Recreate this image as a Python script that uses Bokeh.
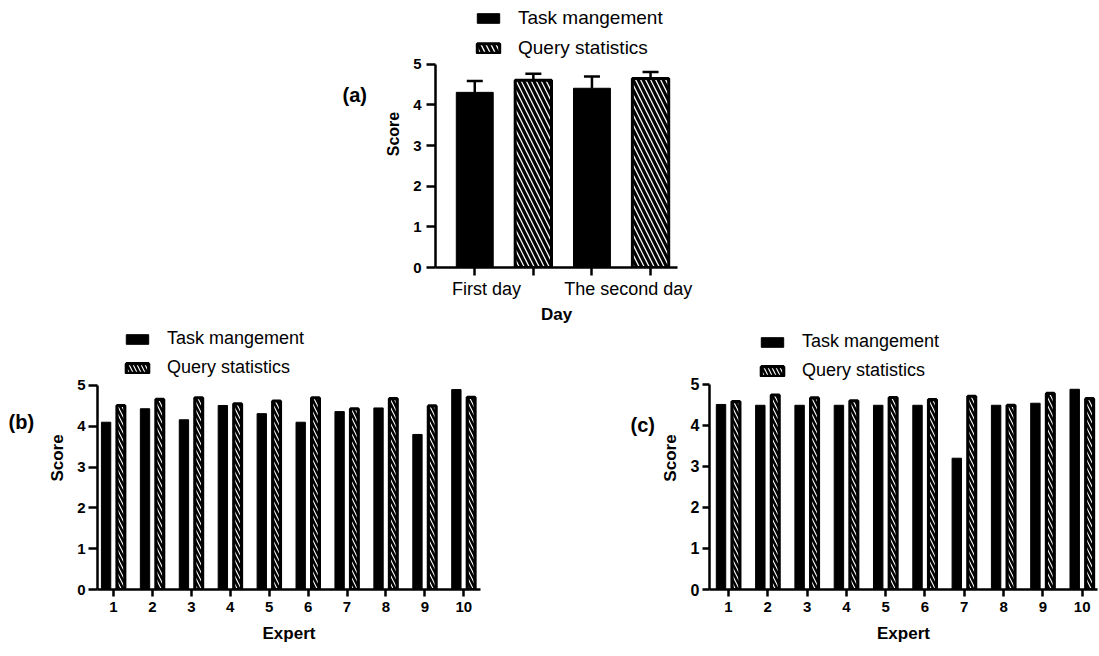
import numpy as np
from bokeh.plotting import figure
from bokeh.models import (ColumnDataSource, Range1d, FixedTicker, Legend, LegendItem,
                          Whisker, TeeHead, Label, Spacer)
from bokeh.layouts import row, column
from bokeh.embed import file_html
from bokeh.resources import INLINE

FONT = "Liberation Sans"

# ---------------- data ----------------
series_names = ["Task mangement", "Query statistics"]
score_ticks = [0, 1, 2, 3, 4, 5]
panel_tags = ["(a)", "(b)", "(c)"]

# panel (a): per day means and SD
days = ["First day", "The second day"]
day_label_pos = [0.2, 2.62]
task_day_mean = [4.31, 4.41]
task_day_sd = [0.28, 0.29]
query_day_mean = [4.61, 4.65]
query_day_sd = [0.16, 0.16]

# panel (b) and (c): per expert scores
experts = [1, 2, 3, 4, 5, 6, 7, 8, 9, 10]
task_b = [4.10, 4.43, 4.16, 4.51, 4.31, 4.10, 4.36, 4.45, 3.80, 4.90]
query_b = [4.51, 4.66, 4.70, 4.55, 4.62, 4.70, 4.43, 4.68, 4.50, 4.71]
task_c = [4.51, 4.49, 4.49, 4.49, 4.49, 4.49, 3.20, 4.49, 4.54, 4.88]
query_c = [4.58, 4.74, 4.67, 4.60, 4.68, 4.63, 4.71, 4.49, 4.78, 4.65]


def base_fig(width, height, xr, ytop, mb_left, mb_right, mb_bottom):
    p = figure(width=width, height=height, x_range=xr, y_range=Range1d(0, ytop),
               output_backend="svg", toolbar_location=None,
               min_border_left=mb_left, min_border_right=mb_right,
               min_border_top=0, min_border_bottom=mb_bottom)
    p.grid.visible = False
    p.outline_line_color = None
    p.background_fill_color = "white"
    p.border_fill_color = "white"
    for ax in (p.xaxis[0], p.yaxis[0]):
        ax.axis_line_color = "black"
        ax.axis_line_width = 2.5
        ax.major_tick_line_color = "black"
        ax.major_tick_line_width = 2.5
        ax.major_tick_in = 0
        ax.minor_tick_line_color = None
        ax.axis_label_text_font = FONT
        ax.axis_label_text_font_style = "bold"
        ax.axis_label_text_color = "black"
        ax.major_label_text_font = FONT
        ax.major_label_text_color = "black"
    yax = p.yaxis[0]
    yax.ticker = FixedTicker(ticks=score_ticks)
    yax.bounds = (score_ticks[0], score_ticks[-1])
    yax.axis_label = "Score"
    yax.major_label_text_font_style = "bold"
    return p


def add_legend(p, r_task, r_query, loc, size):
    leg = Legend(items=[LegendItem(label=series_names[0], renderers=[r_task]),
                        LegendItem(label=series_names[1], renderers=[r_query])],
                 location=loc, glyph_width=28, glyph_height=12, label_height=20,
                 label_text_font=FONT, label_text_font_size=size,
                 label_text_color="black", label_standoff=16, spacing=8,
                 padding=0, margin=0, border_line_color=None,
                 background_fill_alpha=0)
    p.add_layout(leg)


def tag_fig(width, height, tag, x, y_from_top):
    p = figure(frame_width=width, frame_height=height, x_range=Range1d(0, width),
               y_range=Range1d(0, height), x_axis_type=None, y_axis_type=None,
               output_backend="svg", toolbar_location=None,
               min_border_left=0, min_border_right=0, min_border_top=0,
               min_border_bottom=0)
    p.grid.visible = False
    p.outline_line_color = None
    p.background_fill_color = "white"
    p.border_fill_color = "white"
    p.add_layout(Label(x=x, y=height - y_from_top, text=tag, text_font=FONT,
                       text_font_style="bold", text_font_size="20px",
                       text_baseline="middle", text_align="left", text_color="black"))
    return p


HATCH_A = dict(fill_color="white", line_color="black", hatch_pattern="\\",
               hatch_color="black", hatch_weight=3.2, hatch_scale=10)
HATCH_E = dict(fill_color="white", line_color="black", hatch_pattern="\\",
               hatch_color="black", hatch_weight=2.5, hatch_scale=8)

# ---------------- panel (a) ----------------
task_x = [2 * i for i in range(len(days))]
query_x = [2 * i + 1 for i in range(len(days))]
src_ta = ColumnDataSource(dict(x=task_x, top=task_day_mean,
                               up=[m + s for m, s in zip(task_day_mean, task_day_sd)]))
src_qa = ColumnDataSource(dict(x=query_x, top=query_day_mean,
                               up=[m + s for m, s in zip(query_day_mean, query_day_sd)]))

pa = base_fig(330, 326, Range1d(-0.67, 3.46), 6.57, 55, 33, 58)
ra1 = pa.vbar(x="x", top="top", width=0.63, source=src_ta, fill_color="black",
              line_color="black", line_width=1)
ra2 = pa.vbar(x="x", top="top", width=0.62, source=src_qa, line_width=3, **HATCH_A)
for s in (src_ta, src_qa):
    pa.add_layout(Whisker(source=s, base="x", upper="up", lower="top",
                          line_color="black", line_width=2.5,
                          upper_head=TeeHead(size=16, line_width=2.5, line_color="black"),
                          lower_head=None))
xa = pa.xaxis[0]
xa.ticker = FixedTicker(ticks=day_label_pos, minor_ticks=task_x + query_x)
xa.major_label_overrides = {day_label_pos[0]: days[0], day_label_pos[1]: days[1]}
xa.major_tick_line_color = None
xa.major_tick_out = 8
xa.minor_tick_line_color = "black"
xa.minor_tick_line_width = 2.5
xa.minor_tick_in = 0
xa.minor_tick_out = 8
xa.major_label_standoff = 3
xa.major_label_text_font_size = "18px"
xa.axis_label = "Day"
xa.axis_label_text_font_size = "17px"
xa.axis_label_standoff = 3
ya = pa.yaxis[0]
ya.major_tick_out = 9
ya.major_label_standoff = 5
ya.major_label_text_font_size = "15px"
ya.axis_label_text_font_size = "16px"
ya.axis_label_standoff = 8
add_legend(pa, ra1, ra2, (39, 208), "19px")
fa = tag_fig(380, 326, panel_tags[0], 342, 94)


# ---------------- panels (b), (c) ----------------
def expert_panel(task, query, width, xr, ytop, borders, legend_loc, tick_out, fs, yl_standoff):
    src_t = ColumnDataSource(dict(x=[e - 0.19 for e in experts], top=task))
    src_q = ColumnDataSource(dict(x=[e + 0.19 for e in experts], top=query))
    p = base_fig(width, 330, xr, ytop, *borders)
    r1 = p.vbar(x="x", top="top", width=0.24, source=src_t, fill_color="black",
                line_color="black", line_width=1)
    r2 = p.vbar(x="x", top="top", width=0.2, source=src_q, line_width=3.2, **HATCH_E)
    xax = p.xaxis[0]
    xax.ticker = FixedTicker(ticks=experts)
    xax.major_tick_out = 7
    xax.major_label_standoff = 5
    xax.major_label_text_font_style = "bold"
    xax.major_label_text_font_size = "15px"
    xax.axis_label = "Expert"
    xax.axis_label_text_font_size = "17px"
    xax.axis_label_standoff = 9
    yax = p.yaxis[0]
    yax.major_tick_out = tick_out
    yax.major_label_standoff = 3
    yax.major_label_text_font_size = fs
    yax.axis_label_text_font_size = "17px"
    yax.axis_label_standoff = yl_standoff
    add_legend(p, r1, r2, legend_loc, "18px")
    return p


pb = expert_panel(task_b, query_b, 455, Range1d(0.589, 10.43), 6.446, (52, 20, 67),
                  (26, 211), 9, "15px", 7)
pc = expert_panel(task_c, query_c, 444, Range1d(0.517, 10.39), 6.41, (54, 2, 64),
                  (49, 208), 7, "16px", 8)
fb = tag_fig(45, 330, panel_tags[1], 8, 95)
fc = tag_fig(55, 330, panel_tags[2], 30, 98)

layout = column(row(fa, pa),
                row(fb, pb, Spacer(width=100, height=330), fc, pc))

open("out.html", "w").write(file_html(layout, INLINE))
